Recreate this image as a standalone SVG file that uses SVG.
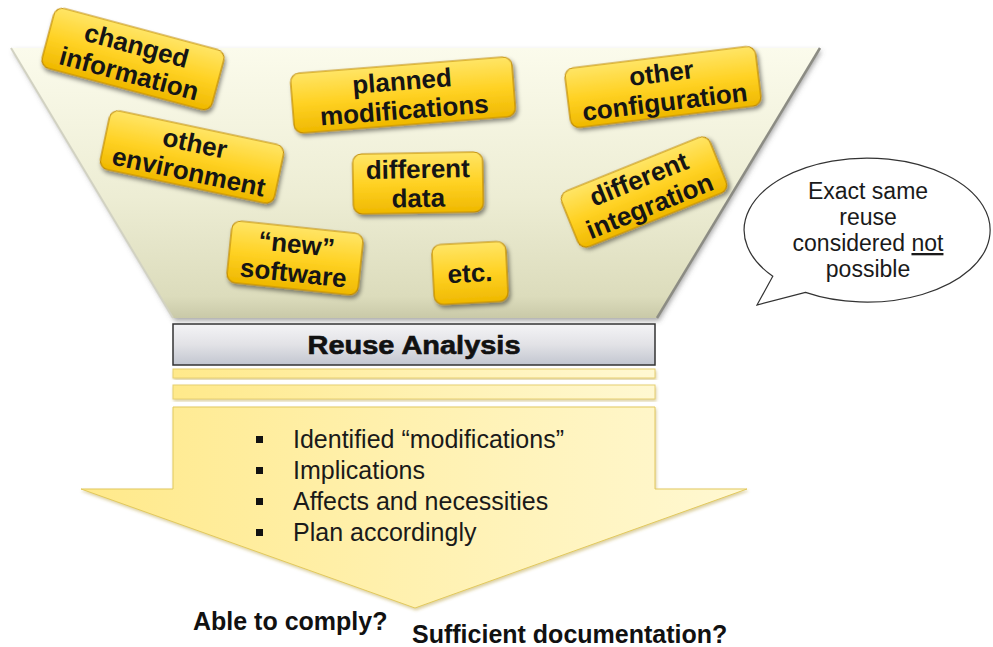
<svg xmlns="http://www.w3.org/2000/svg" width="993" height="647" viewBox="0 0 993 647">
  <defs>
    <linearGradient id="funnelG" x1="0" y1="0" x2="0" y2="1">
      <stop offset="0" stop-color="#fbfbec"/>
      <stop offset="0.55" stop-color="#ededd4"/>
      <stop offset="0.92" stop-color="#dcdcbc"/>
      <stop offset="1" stop-color="#c9c9a8"/>
    </linearGradient>
    <linearGradient id="gold" x1="0" y1="0" x2="0" y2="1">
      <stop offset="0" stop-color="#ffe566"/>
      <stop offset="0.5" stop-color="#ffd224"/>
      <stop offset="1" stop-color="#efb800"/>
    </linearGradient>
    <linearGradient id="grayG" x1="0" y1="0" x2="0" y2="1">
      <stop offset="0" stop-color="#f4f4f6"/>
      <stop offset="0.5" stop-color="#e2e2e6"/>
      <stop offset="1" stop-color="#c2c6d0"/>
    </linearGradient>
    <linearGradient id="yelG" x1="0" y1="0" x2="1" y2="0">
      <stop offset="0" stop-color="#ffe98a"/>
      <stop offset="0.5" stop-color="#fff1b0"/>
      <stop offset="1" stop-color="#fff8d2"/>
    </linearGradient>
    <filter id="sh" x="-20%" y="-20%" width="140%" height="150%">
      <feDropShadow dx="2" dy="3" stdDeviation="2" flood-color="#000" flood-opacity="0.45"/>
    </filter>
    <filter id="shF" x="-5%" y="-5%" width="110%" height="115%">
      <feDropShadow dx="2" dy="3" stdDeviation="2.5" flood-color="#555" flood-opacity="0.5"/>
    </filter>
    <filter id="shL" x="-5%" y="-10%" width="110%" height="130%">
      <feDropShadow dx="1" dy="2" stdDeviation="1.5" flood-color="#b39a30" flood-opacity="0.45"/>
    </filter>
  </defs>
  <style>
    .box rect { fill:url(#gold); stroke:#c08a00; stroke-width:1.2; filter:url(#sh); }
    .bt { font-family:"Liberation Sans", Arial, sans-serif; font-weight:bold; font-size:26px; fill:#151515; text-anchor:middle; }
    .reg { font-family:"Liberation Sans", Arial, sans-serif; font-size:25px; fill:#1a1a1a; }
    .call { font-family:"Liberation Sans", Arial, sans-serif; font-size:23px; fill:#1a1a1a; text-anchor:middle; }
    .bold { font-family:"Liberation Sans", Arial, sans-serif; font-weight:bold; font-size:25px; fill:#111; }
    .stripe { fill:url(#yelG); stroke:#e6cf70; stroke-width:1; filter:url(#shL); }
  </style>
  <rect width="993" height="647" fill="#ffffff"/>

  <g id="funnel">
    <polygon points="11,48 820,48 657,318 173,318" fill="url(#funnelG)" filter="url(#shF)"/>
    <line x1="11" y1="48" x2="173" y2="318" stroke="#d2d2c2" stroke-width="2"/>
    <line x1="820" y1="48" x2="657" y2="318" stroke="#8c8c84" stroke-width="2.5"/>
  </g>

  <g id="node-changed-information" class="box" transform="translate(133,59) rotate(15)">
    <rect x="-88" y="-31" width="176" height="62" rx="9"/>
    <text class="bt" x="0" y="-5">changed<tspan x="0" dy="29">information</tspan></text>
  </g>
  <g id="node-planned-modifications" class="box" transform="translate(403,95) rotate(-4.5)">
    <rect x="-111" y="-30" width="222" height="60" rx="9"/>
    <text class="bt" x="0" y="-5">planned<tspan x="0" dy="29">modifications</tspan></text>
  </g>
  <g id="node-other-configuration" class="box" transform="translate(663,87) rotate(-7)">
    <rect x="-96" y="-30" width="192" height="60" rx="9"/>
    <text class="bt" x="0" y="-5">other<tspan x="0" dy="29">configuration</tspan></text>
  </g>
  <g id="node-other-environment" class="box" transform="translate(192,157) rotate(12)">
    <rect x="-89" y="-30" width="178" height="60" rx="9"/>
    <text class="bt" x="0" y="-5">other<tspan x="0" dy="29">environment</tspan></text>
  </g>
  <g id="node-different-data" class="box" transform="translate(418,183) rotate(-1)">
    <rect x="-65" y="-30" width="130" height="60" rx="9"/>
    <text class="bt" x="0" y="-5">different<tspan x="0" dy="29">data</tspan></text>
  </g>
  <g id="node-different-integration" class="box" transform="translate(644,192) rotate(-22)">
    <rect x="-80" y="-30" width="160" height="60" rx="9"/>
    <text class="bt" x="0" y="-5">different<tspan x="0" dy="29">integration</tspan></text>
  </g>
  <g id="node-new-software" class="box" transform="translate(295,258) rotate(6)">
    <rect x="-66" y="-31" width="132" height="62" rx="9"/>
    <text class="bt" x="0" y="-5">“new”<tspan x="0" dy="29">software</tspan></text>
  </g>
  <g id="node-etc" class="box" transform="translate(470,273) rotate(-3)">
    <rect x="-37" y="-30" width="74" height="60" rx="9"/>
    <text class="bt" x="0" y="9">etc.</text>
  </g>

  <g id="node-reuse-analysis">
    <rect x="173" y="324" width="482" height="41" fill="url(#grayG)" stroke="#333" stroke-width="1.5"/>
    <text class="bold" x="414" y="354" text-anchor="middle" font-size="27" textLength="213" lengthAdjust="spacingAndGlyphs" stroke="#111" stroke-width="0.6">Reuse Analysis</text>
  </g>

  <g id="stripes">
    <rect class="stripe" x="173" y="369" width="482" height="9"/>
    <rect class="stripe" x="173" y="385" width="482" height="14"/>
  </g>

  <g id="flow-arrow">
    <polygon points="173,407 655,407 655,489 747,489 415,608 81,489 173,489" fill="url(#yelG)" stroke="#e2c95e" stroke-width="1" filter="url(#shL)"/>
  </g>

  <g id="node-bullets">
    <rect x="256" y="436" width="7" height="7" fill="#111"/>
    <rect x="256" y="467" width="7" height="7" fill="#111"/>
    <rect x="256" y="498" width="7" height="7" fill="#111"/>
    <rect x="256" y="529" width="7" height="7" fill="#111"/>
    <text class="reg" x="293" y="448">Identified “modifications”</text>
    <text class="reg" x="293" y="479">Implications</text>
    <text class="reg" x="293" y="510">Affects and necessities</text>
    <text class="reg" x="293" y="541">Plan accordingly</text>
  </g>

  <g id="node-able">
    <text class="bold" x="193" y="630">Able to comply?</text>
  </g>
  <g id="node-sufficient">
    <text class="bold" x="412" y="643">Sufficient documentation?</text>
  </g>

  <g id="node-callout">
    <path d="M 805.5 292.4 L 757 305 L 772.8 276.3 A 123 72 0 1 1 805.5 292.4 Z" fill="#ffffff" stroke="#333" stroke-width="1.2"/>
    <text class="call" x="868" y="199">Exact same</text>
    <text class="call" x="868" y="225">reuse</text>
    <text class="call" x="868" y="251">considered <tspan text-decoration="underline">not</tspan></text>
    <text class="call" x="868" y="277">possible</text>
  </g>
</svg>
